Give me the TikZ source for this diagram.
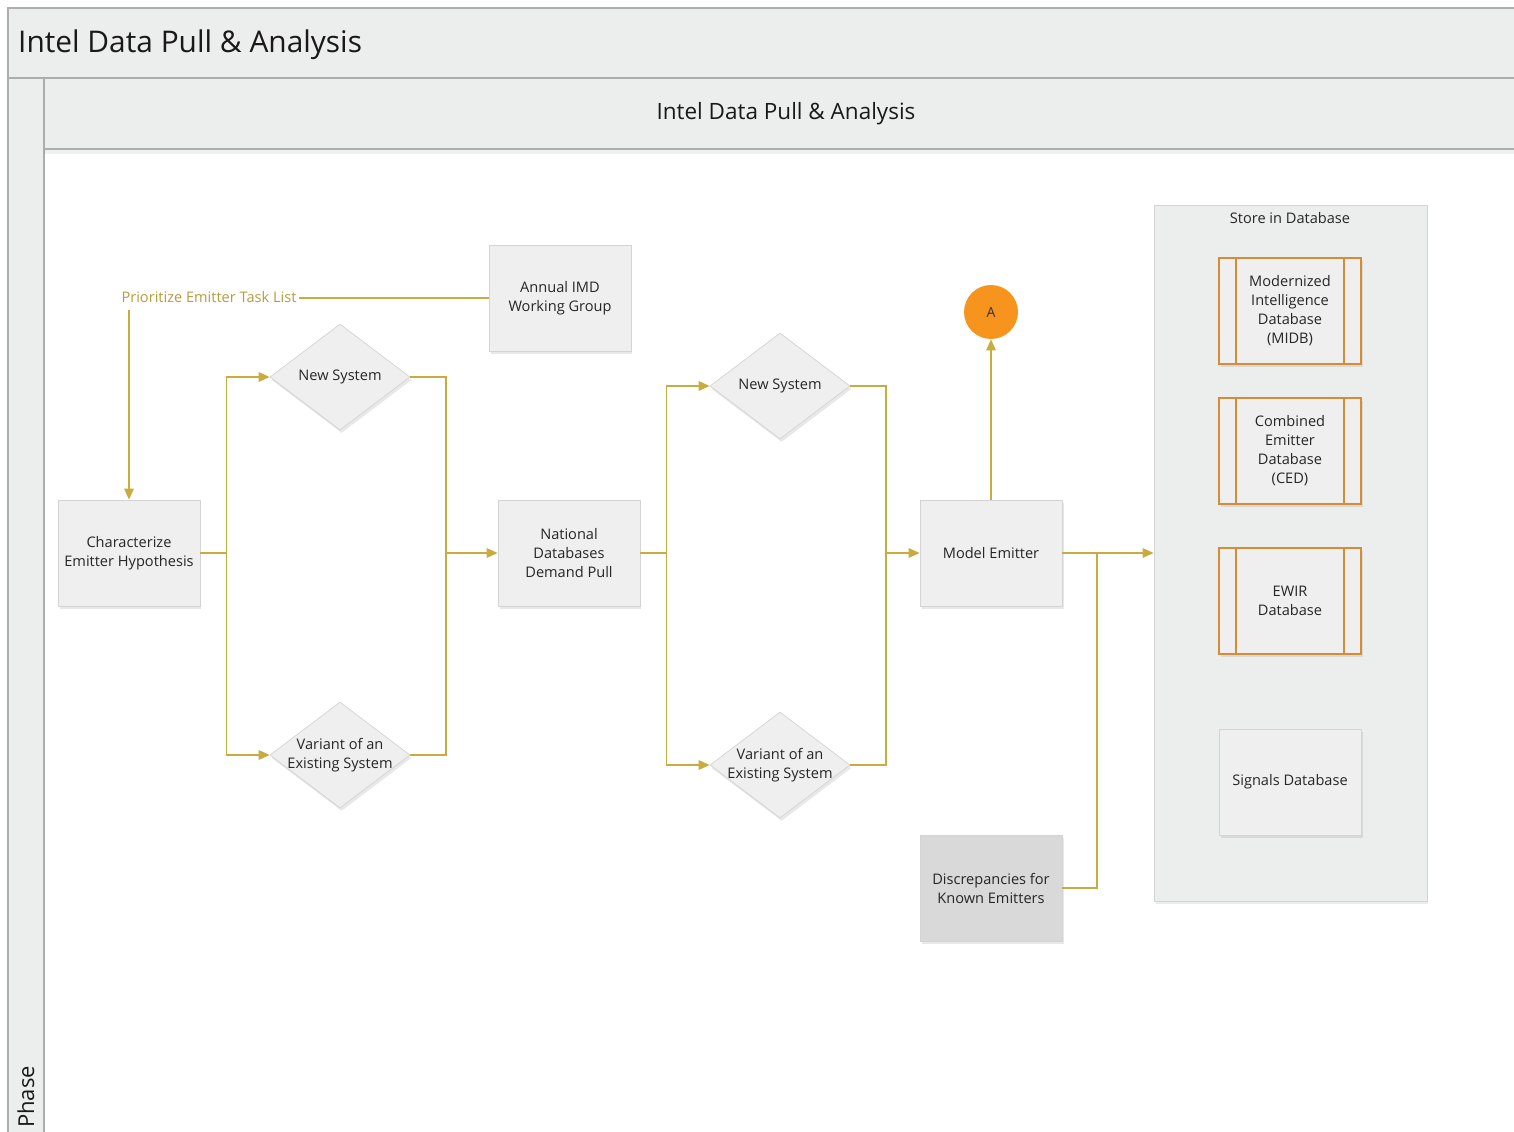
\documentclass[tikz,border=0pt]{standalone}
\usepackage{fontspec}
\setmainfont{Open Sans}
\usetikzlibrary{positioning, shapes.geometric, arrows.meta, shadows}

\definecolor{gold}{RGB}{201,171,62}
\definecolor{goldtext}{RGB}{184,156,58}
\definecolor{boxfill}{RGB}{239,239,239}
\definecolor{boxline}{RGB}{212,212,212}
\definecolor{bandfill}{RGB}{236,237,237}
\definecolor{bandline}{RGB}{170,174,174}
\definecolor{dborange}{RGB}{213,140,55}
\definecolor{conorange}{RGB}{247,148,29}
\definecolor{darkfill}{RGB}{217,217,217}
\newcommand{\boxfont}{\fontsize{8.3}{10.8}\selectfont}

\begin{document}
\begin{tikzpicture}[x=0.02cm, y=-0.02cm,
  box/.style={rectangle, draw=boxline, fill=boxfill, minimum width=2.84cm, minimum height=2.12cm, align=center, font=\boxfont, text=black!85,
    drop shadow={opacity=0.18, shadow xshift=0.03cm, shadow yshift=-0.06cm}},
  dec/.style={diamond, draw=boxline, fill=boxfill, inner xsep=-0.5cm, inner ysep=-0.3cm, minimum width=2.8cm, minimum height=2.12cm, align=center, font=\boxfont, text=black!85,
    drop shadow={opacity=0.18, shadow xshift=0.03cm, shadow yshift=-0.06cm}},
  dbbox/.style={box, draw=dborange, line width=1.2pt},
  band/.style={draw=bandline, fill=bandfill, line width=0.6pt},
  link/.style={draw=gold, line width=0.8pt},
  arr/.style={link, -{Triangle[length=2.2mm, width=1.9mm]}},
]
  \clip (0,0) rectangle (1514,1132);
  \fill[white] (0,0) rectangle (1514,1132);

  % swimlane bands
  \draw[band] (8,8) rectangle (1530,78);
  \draw[band] (8,78) rectangle (44,1140);
  \fill[black, opacity=0.06] (44,149) rectangle (1530,154);
  \draw[band] (44,78) rectangle (1530,149);
  \node[anchor=west, font=\fontsize{17}{19}\selectfont, text=black!90] (title) at (12,45) {Intel Data Pull \& Analysis};
  \node[font=\fontsize{12.8}{14}\selectfont, text=black!90] (lane) at (786,114) {Intel Data Pull \& Analysis};
  \node[rotate=90, anchor=west, font=\fontsize{12.5}{14}\selectfont, text=black!90, inner sep=1pt] (phase) at (26,1130) {Phase};

  % store container
  \node[rectangle, draw=boxline, fill=bandfill, minimum width=5.46cm, minimum height=13.92cm,
    drop shadow={opacity=0.15, shadow xshift=0.03cm, shadow yshift=-0.06cm}] (store) at (1290.5,553) {};
  \node[font=\boxfont, text=black!85] (storelbl) at (1290,218) {Store in Database};

  % process nodes
  \node[box] (char) at (129,553) {Characterize\\Emitter Hypothesis};
  \node[box] (imd) at (560,298) {Annual IMD\\Working Group};
  \node[dec] (new1) at (340,377) {New System};
  \node[dec] (var1) at (340,755) {Variant of an\\Existing System};
  \node[box] (natl) at (569,553) {National\\Databases\\Demand Pull};
  \node[dec] (new2) at (780,386) {New System};
  \node[dec] (var2) at (780,765) {Variant of an\\Existing System};
  \node[box] (model) at (991,553) {Model Emitter};
  \node[box, fill=darkfill] (disc) at (991,888) {Discrepancies for\\Known Emitters};
  \node[circle, fill=conorange, minimum size=1.08cm, inner sep=0pt, font=\fontsize{8}{9}\selectfont, text=black!80] (conA) at (991,312) {A};

  % databases
  \node[dbbox] (midb) at (1290,311) {Modernized\\Intelligence\\Database\\(MIDB)};
  \node[dbbox] (ced) at (1290,451) {Combined\\Emitter\\Database\\(CED)};
  \node[dbbox] (ewir) at (1290,601) {EWIR\\Database};
  \node[box] (sig) at (1290,782) {Signals Database};
  \foreach \db in {midb, ced, ewir} {
    \draw[dborange, line width=1.2pt] ([xshift=0.36cm]\db.north west) -- ([xshift=0.36cm]\db.south west);
    \draw[dborange, line width=1.2pt] ([xshift=-0.36cm]\db.north east) -- ([xshift=-0.36cm]\db.south east);
  }

  % connectors
  \node[font=\boxfont, text=goldtext, inner sep=1pt] (task) at (209,297) {Prioritize Emitter Task List};
  \draw[link] (imd.west) -- (imd.west -| task.east);
  \draw[arr] ([yshift=-0.1cm]task.south -| char.north) -- (char.north);

  \coordinate (j1) at (446,553);
  \coordinate (j2) at (886,553);
  \coordinate (j3) at (1097,553);
  \draw[arr] (char.east) -- ++(26,0) |- (new1.west);
  \draw[arr] (char.east) -- ++(26,0) |- (var1.west);
  \draw[link] (new1.east) -| (j1);
  \draw[link] (var1.east) -| (j1);
  \draw[arr] (j1) -- (natl.west);
  \draw[arr] (natl.east) -- ++(26,0) |- (new2.west);
  \draw[arr] (natl.east) -- ++(26,0) |- (var2.west);
  \draw[link] (new2.east) -| (j2);
  \draw[link] (var2.east) -| (j2);
  \draw[arr] (j2) -- (model.west);
  \draw[arr] (model.north) -- (conA.south);
  \draw[arr] (model.east) -- (store.west);
  \draw[link] (disc.east) -| (j3);
\end{tikzpicture}
\end{document}
